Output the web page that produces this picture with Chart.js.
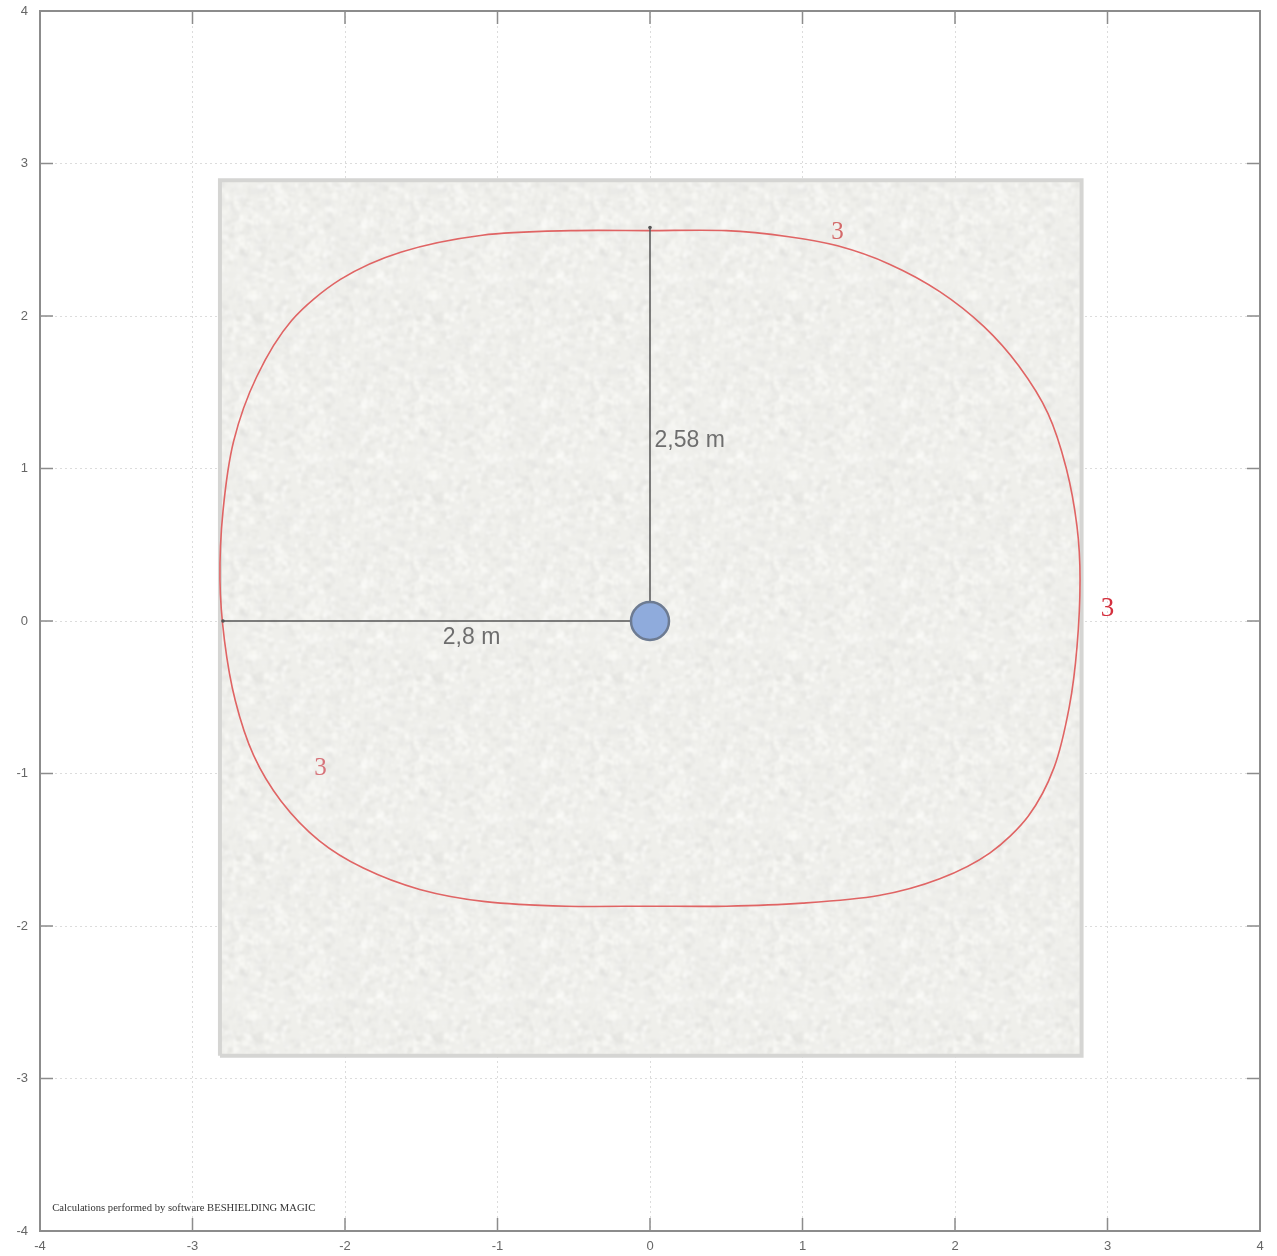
<!DOCTYPE html>
<html>
<head>
<meta charset="utf-8">
<script src="https://cdn.jsdelivr.net/npm/chart.js@4.4.1/dist/chart.umd.min.js"></script>
<style>
  html, body { margin: 0; padding: 0; background: #ffffff; }
  #wrap { width: 1277px; height: 1256px; position: relative; }
</style>
</head>
<body>
<div id="wrap"><canvas id="plan" width="1277" height="1256"></canvas></div>
<script>
// Axis ticks (metres)
const axisTicks = [-4, -3, -2, -1, 0, 1, 2, 3, 4];

// Concrete wall outline (metres)
const wallX = [-2.82, -2.82, 2.83, 2.83, -2.82];
const wallY = [-2.85, 2.89, 2.89, -2.85, -2.85];

// Iso-dose contour "3", traced clockwise from the top
const isoX = [0, 0.50, 0.91, 1.23, 1.57, 1.90, 2.19, 2.42, 2.61, 2.73, 2.80, 2.82, 2.80, 2.75, 2.65, 2.48, 2.23, 1.90, 1.50, 1.00, 0.50,
              0, -0.55, -1.08, -1.51, -1.88, -2.17, -2.42, -2.60, -2.72, -2.79, -2.82, -2.80, -2.73, -2.58, -2.35, -2.03, -1.63, -1.10, -0.52, 0];
const isoY = [2.56, 2.56, 2.52, 2.46, 2.34, 2.16, 1.93, 1.67, 1.36, 1.00, 0.62, 0.27, -0.17, -0.56, -0.96, -1.28, -1.52, -1.69, -1.80, -1.85, -1.87,
              -1.87, -1.87, -1.84, -1.76, -1.62, -1.44, -1.18, -0.88, -0.52, -0.13, 0.27, 0.72, 1.18, 1.60, 1.97, 2.24, 2.42, 2.53, 2.56, 2.56];
const isoLevel = '3';

// Source position and measured distances (metres)
const sourceX = [0];
const sourceY = [0];
const distanceUp = 2.58;
const distanceLeft = 2.8;
const distanceLabels = ['2,58 m', '2,8 m'];

const footerText = 'Calculations performed by software BESHIELDING MAGIC';

// --- concrete texture for the wall fill (seamless tile) ---
function concretePattern() {
  const size = 180;
  const raw = document.createElement('canvas');
  raw.width = raw.height = size;
  const r = raw.getContext('2d');
  r.fillStyle = '#efefeb';
  r.fillRect(0, 0, size, size);
  let s = 12345;
  const next = () => { s = (s * 1103515245 + 12345) & 0x7fffffff; return s / 0x7fffffff; };
  for (let i = 0; i < 2200; i++) {
    const g = 224 + Math.floor(next() * 32);
    r.fillStyle = `rgba(${g},${g},${g - 3},0.55)`;
    const w = 1 + next() * 6, h = 1 + next() * 6;
    r.fillRect(next() * size, next() * size, w, h);
  }
  // tile 3x3, blur once, keep the centre so edges wrap cleanly
  const big = document.createElement('canvas');
  big.width = big.height = size * 3;
  const b = big.getContext('2d');
  for (let i = 0; i < 3; i++) for (let j = 0; j < 3; j++) b.drawImage(raw, i * size, j * size);
  const blurred = document.createElement('canvas');
  blurred.width = blurred.height = size * 3;
  const bl = blurred.getContext('2d');
  bl.filter = 'blur(1.3px)';
  bl.drawImage(big, 0, 0);
  const out = document.createElement('canvas');
  out.width = out.height = size;
  out.getContext('2d').drawImage(blurred, size, size, size, size, 0, 0, size, size);
  return out.getContext('2d').createPattern(out, 'repeat');
}

const zip = (xs, ys) => xs.map((x, i) => ({ x, y: ys[i] }));

// Frame with inward tick marks on all four sides
const framePlugin = {
  id: 'frame',
  afterDraw(chart) {
    const { ctx, chartArea: a, scales: { x, y } } = chart;
    ctx.save();
    ctx.strokeStyle = '#8c8c8c';
    ctx.lineWidth = 2;
    ctx.strokeRect(a.left, a.top, a.right - a.left, a.bottom - a.top);
    ctx.lineWidth = 1.5;
    ctx.beginPath();
    axisTicks.forEach(t => {
      const px = x.getPixelForValue(t), py = y.getPixelForValue(t);
      ctx.moveTo(px, a.top); ctx.lineTo(px, a.top + 13);
      ctx.moveTo(px, a.bottom); ctx.lineTo(px, a.bottom - 13);
      ctx.moveTo(a.left, py); ctx.lineTo(a.left + 13, py);
      ctx.moveTo(a.right, py); ctx.lineTo(a.right - 13, py);
    });
    ctx.stroke();
    ctx.restore();
  }
};

// Distance, contour-level and footer texts
const textPlugin = {
  id: 'texts',
  afterDatasetsDraw(chart) {
    const { ctx, scales: { x, y } } = chart;
    ctx.save();
    ctx.textBaseline = 'middle';
    ctx.fillStyle = '#6e6e6e';
    ctx.font = '23px "Liberation Sans", Arial, sans-serif';
    ctx.textAlign = 'left';
    ctx.fillText(distanceLabels[0], x.getPixelForValue(0.03), y.getPixelForValue(1.18));
    ctx.textAlign = 'center';
    ctx.fillText(distanceLabels[1], x.getPixelForValue(-1.17), y.getPixelForValue(-0.11));

    ctx.font = '25px "Liberation Serif", "Times New Roman", serif';
    ctx.fillStyle = '#d46a6a';
    ctx.fillText(isoLevel, x.getPixelForValue(1.23), y.getPixelForValue(2.55));
    ctx.fillStyle = '#d7737a';
    ctx.fillText(isoLevel, x.getPixelForValue(-2.16), y.getPixelForValue(-0.97));
    ctx.fillStyle = '#d4303e';
    ctx.font = '27px "Liberation Serif", "Times New Roman", serif';
    ctx.fillText(isoLevel, x.getPixelForValue(3.00), y.getPixelForValue(0.08));

    // footer
    ctx.fillStyle = '#333333';
    ctx.font = '11px "Liberation Serif", "Times New Roman", serif';
    ctx.textAlign = 'left';
    const w = ctx.measureText(footerText).width;
    const fx = x.getPixelForValue(-3.92), fy = y.getPixelForValue(-3.85);
    ctx.translate(fx, fy);
    ctx.scale(263 / w, 1);
    ctx.fillText(footerText, 0, 0);
    ctx.restore();
  }
};

const tickFont = { family: '"Liberation Sans", Arial, sans-serif', size: 13 };

new Chart(document.getElementById('plan'), {
  type: 'scatter',
  data: {
    datasets: [
      {
        label: 'source',
        data: zip(sourceX, sourceY),
        pointRadius: 19,
        pointHoverRadius: 19,
        backgroundColor: '#8fabdc',
        borderColor: '#6d7b92',
        borderWidth: 2.5,
        order: 1
      },
      {
        label: 'distances',
        data: [{ x: -distanceLeft, y: 0 }, { x: 0, y: 0 }, { x: 0, y: distanceUp }],
        showLine: true,
        borderColor: '#555555',
        borderWidth: 1.5,
        pointRadius: [1.8, 0, 1.8],
        pointBackgroundColor: '#555555',
        pointBorderWidth: 0,
        order: 2
      },
      {
        label: 'iso 3',
        data: zip(isoX, isoY),
        showLine: true,
        borderColor: '#e06464',
        borderWidth: 1.6,
        tension: 0.3,
        pointRadius: 0,
        fill: false,
        order: 3
      },
      {
        label: 'wall',
        data: zip(wallX, wallY),
        showLine: true,
        borderColor: '#d5d5d3',
        borderWidth: 4,
        borderJoinStyle: 'miter',
        backgroundColor: concretePattern(),
        fill: 'shape',
        pointRadius: 0,
        order: 5
      }
    ]
  },
  options: {
    responsive: false,
    devicePixelRatio: 1,
    animation: false,
    events: [],
    layout: { autoPadding: false, padding: { top: 11, right: 17, left: 0, bottom: 0 } },
    plugins: { legend: { display: false }, tooltip: { enabled: false } },
    scales: {
      x: {
        type: 'linear', min: -4, max: 4,
        afterFit(s) { s.height = 25; s.paddingLeft = 0; s.paddingRight = 0; },
        afterBuildTicks(s) { s.ticks = axisTicks.map(v => ({ value: v })); },
        ticks: { color: '#666666', font: tickFont, padding: 8, maxRotation: 0, autoSkip: false, callback: v => String(v) },
        grid: { color: '#dcdcdc', lineWidth: 1, drawTicks: false },
        border: { display: false, dash: [2, 3] }
      },
      y: {
        type: 'linear', min: -4, max: 4,
        afterFit(s) { s.width = 40; s.paddingTop = 0; s.paddingBottom = 0; },
        afterBuildTicks(s) { s.ticks = axisTicks.map(v => ({ value: v })); },
        ticks: { color: '#666666', font: tickFont, padding: 12, autoSkip: false, callback: v => String(v) },
        grid: { color: '#dcdcdc', lineWidth: 1, drawTicks: false },
        border: { display: false, dash: [2, 3] }
      }
    }
  },
  plugins: [framePlugin, textPlugin]
});
</script>
</body>
</html>
